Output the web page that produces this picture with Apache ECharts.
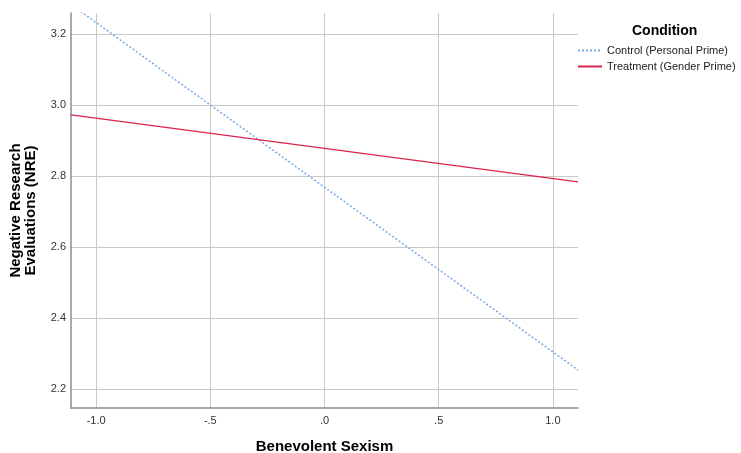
<!DOCTYPE html>
<html>
<head>
<meta charset="utf-8">
<script src="https://cdn.jsdelivr.net/npm/echarts@6/dist/echarts.min.js"></script>
<style>html,body{margin:0;padding:0;background:#fff;}#c{width:741px;height:453px;}</style>
</head>
<body>
<div id="c"></div>
<script>
var xValues = [-1.11, 1.11];
var controlValues = [3.283, 2.253];
var treatmentValues = [2.972, 2.783];
var seriesNames = ['Control (Personal Prime)', 'Treatment (Gender Prime)'];
var xRange = [-1.11, 1.11];
var yRange = [2.146, 3.259];

function pairs(xs, ys) { return xs.map(function (x, i) { return [x, ys[i]]; }); }
function fmtX(v) {
  var s = (Math.round(v * 10) / 10).toFixed(1);
  return s.replace(/^(-?)0\./, '$1.');
}

var chart = echarts.init(document.getElementById('c'));
var FONT = 'Liberation Sans, Arial, sans-serif';
chart.setOption({
  animation: false,
  backgroundColor: '#fff',
  title: {
    text: 'Condition', left: 627, top: 19,
    textStyle: { fontFamily: FONT, fontSize: 14, fontWeight: 'bold', color: '#000' }
  },
  legend: {
    orient: 'vertical', left: 572, top: 40, itemWidth: 24, itemHeight: 10, itemGap: 5,
    data: seriesNames,
    itemStyle: { opacity: 0 },
    textStyle: { fontFamily: FONT, fontSize: 11, color: '#222' }
  },
  grid: { left: 71, right: 163, top: 13, bottom: 45, outerBoundsMode: 'none', containLabel: false },
  xAxis: {
    type: 'value', min: xRange[0], max: xRange[1], minInterval: 0.5, maxInterval: 0.5,
    name: 'Benevolent Sexism', nameLocation: 'middle', nameGap: 31,
    nameTextStyle: { fontFamily: FONT, fontSize: 15, fontWeight: 'bold', color: '#000' },
    axisLine: { show: true, onZero: false, lineStyle: { color: '#8c8c8c', width: 1.5 } },
    axisTick: { show: false },
    axisLabel: { margin: 7, showMinLabel: false, showMaxLabel: false, formatter: fmtX,
      fontFamily: FONT, fontSize: 11, color: '#333' },
    splitLine: { show: true, showMinLine: false, showMaxLine: false, lineStyle: { color: '#c9c9c9', width: 1 } }
  },
  yAxis: {
    type: 'value', min: yRange[0], max: yRange[1], minInterval: 0.2, maxInterval: 0.2,
    name: 'Negative Research\nEvaluations (NRE)', nameLocation: 'middle', nameGap: 33,
    nameTextStyle: { fontFamily: FONT, fontSize: 15, fontWeight: 'bold', color: '#000', lineHeight: 15 },
    axisLine: { show: true, onZero: false, lineStyle: { color: '#8c8c8c', width: 1.5 } },
    axisTick: { show: false },
    axisLabel: { margin: 5, showMinLabel: false, showMaxLabel: false,
      formatter: function (v) { return v.toFixed(1); },
      fontFamily: FONT, fontSize: 11, color: '#333' },
    splitLine: { show: true, showMinLine: false, showMaxLine: false, lineStyle: { color: '#c9c9c9', width: 1 } }
  },
  series: [
    {
      name: seriesNames[0], type: 'line', data: pairs(xValues, controlValues),
      symbol: 'none', clip: true, color: '#78a8ea',
      lineStyle: { color: '#78a8ea', width: 1.5, type: [2, 2] }
    },
    {
      name: seriesNames[1], type: 'line', data: pairs(xValues, treatmentValues),
      symbol: 'none', clip: true, color: '#d8244c',
      lineStyle: { color: '#d8244c', width: 1.2 }
    }
  ]
});
</script>
</body>
</html>
